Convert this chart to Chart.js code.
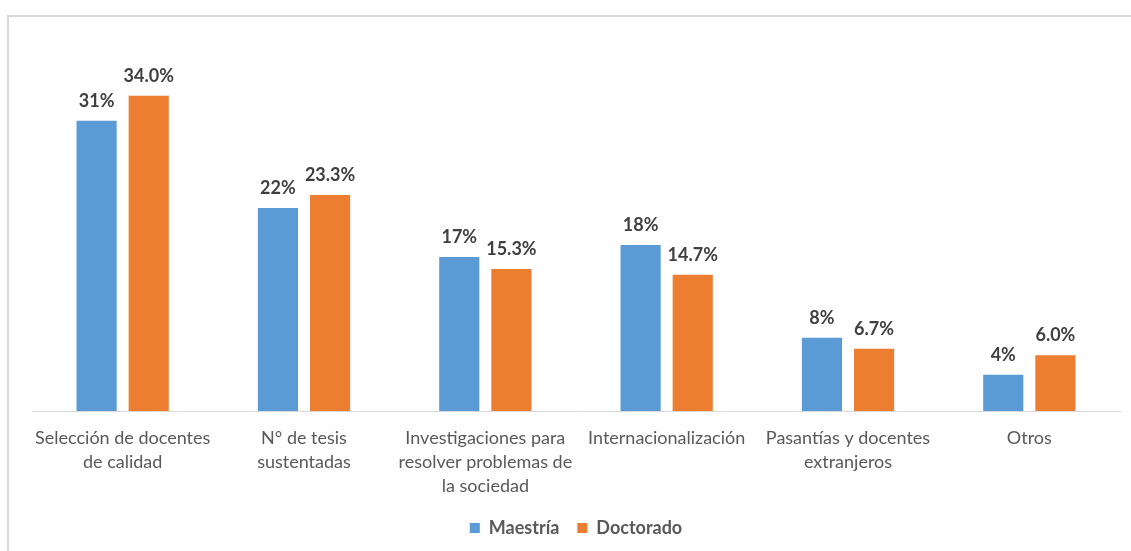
<!DOCTYPE html>
<html>
<head>
<meta charset="utf-8">
<script src="https://cdn.jsdelivr.net/npm/chart.js@4.4.0/dist/chart.umd.min.js"></script>
<style>
  html, body { margin: 0; padding: 0; background: #fff; }
  #wrap { position: relative; width: 1131px; height: 551px; }
  #frame { position: absolute; left: 7px; top: 15px; right: 0; bottom: 0;
           border-left: 2px solid #d9d9d9; border-top: 2px solid #d9d9d9; }
  canvas { position: absolute; left: 0; top: 0; }
</style>
</head>
<body>
<div id="wrap">
  <div id="frame"></div>
  <canvas id="c" width="1131" height="551"></canvas>
</div>
<script>
const categories = [
  ["Selección de docentes", "de calidad"],
  ["N° de tesis", "sustentadas"],
  ["Investigaciones para", "resolver problemas de", "la sociedad"],
  ["Internacionalización"],
  ["Pasantías y docentes", "extranjeros"],
  ["Otros"]
];
const seriesNames = ["Maestría", "Doctorado"];
const maestria = [31.3, 21.9, 16.6, 17.9, 7.9, 3.9];
const doctorado = [34.0, 23.3, 15.3, 14.7, 6.7, 6.0];
const labelDecimals = [0, 1];

const FONT = "Lato, 'Open Sans', sans-serif";

const dataLabels = {
  id: 'dataLabels',
  afterDatasetsDraw(chart) {
    const ctx = chart.ctx;
    ctx.save();
    ctx.font = "bold 18px " + FONT;
    ctx.fillStyle = '#404040';
    ctx.textAlign = 'center';
    ctx.textBaseline = 'alphabetic';
    chart.data.datasets.forEach((ds, di) => {
      const meta = chart.getDatasetMeta(di);
      meta.data.forEach((bar, i) => {
        const v = ds.data[i];
        ctx.fillText(v.toFixed(labelDecimals[di]) + '%', bar.x, bar.y - 14);
      });
    });
    ctx.restore();
  }
};

new Chart(document.getElementById('c'), {
  type: 'bar',
  data: {
    labels: categories,
    datasets: [
      { label: seriesNames[0], data: maestria, backgroundColor: '#5B9BD5' },
      { label: seriesNames[1], data: doctorado, backgroundColor: '#ED7D31' }
    ]
  },
  options: {
    responsive: false,
    animation: false,
    categoryPercentage: 0.575,
    barPercentage: 0.77,
    layout: { padding: { left: 32, right: 11, top: 40, bottom: 4 } },
    scales: {
      x: {
        grid: { display: true, drawOnChartArea: false, drawTicks: false },
        border: { display: true, color: '#d9d9d9', width: 1 },
        ticks: { color: '#595959', font: { family: FONT, size: 18, lineHeight: 1.33 }, padding: 15, maxRotation: 0, autoSkip: false },
        afterFit(scale) { scale.height = 90; }
      },
      y: { display: false, min: 0, max: 40 }
    },
    plugins: {
      legend: {
        position: 'bottom',
        labels: { color: '#595959', font: { family: FONT, size: 18, weight: 'bold' }, boxWidth: 10, boxHeight: 10, padding: 18 }
      },
      tooltip: { enabled: false }
    }
  },
  plugins: [dataLabels]
});
</script>
</body>
</html>
